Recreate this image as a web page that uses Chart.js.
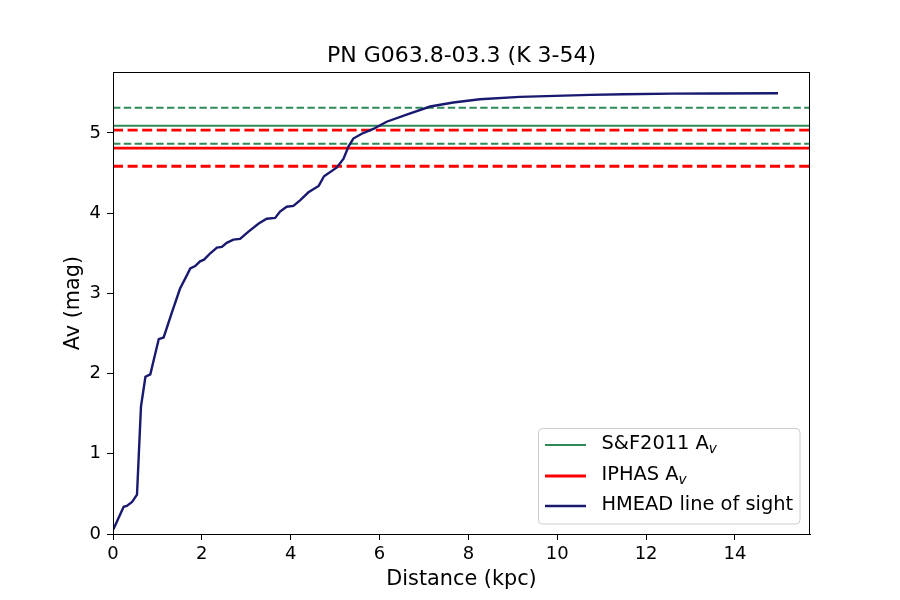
<!DOCTYPE html>
<html>
<head>
<meta charset="utf-8">
<title>PN G063.8-03.3 (K 3-54)</title>
<script src="https://cdn.jsdelivr.net/npm/chart.js@4.4.1/dist/chart.umd.min.js"></script>
<style>
  html, body { margin: 0; padding: 0; background: #fff; }
  #wrap { width: 900px; height: 600px; }
</style>
</head>
<body>
<div id="wrap"><canvas id="chart" width="900" height="600"></canvas></div>
<script>
// HMEAD line of sight
const distance = [0.01, 0.24, 0.31, 0.43, 0.54, 0.63, 0.73, 0.84, 1.03, 1.14, 1.33, 1.51, 1.63, 1.74,
    1.85, 1.96, 2.05, 2.19, 2.34, 2.45, 2.56, 2.71, 2.86, 3.05, 3.28, 3.46, 3.65, 3.76, 3.91, 4.06,
    4.21, 4.40, 4.63, 4.75, 5.04, 5.19, 5.30, 5.41, 5.60, 5.86, 6.16, 6.61, 7.14, 7.66, 8.26, 9.16,
    10.74, 11.5, 12.6, 13.5, 14.97];
const extinction = [0.06, 0.34, 0.35, 0.40, 0.49, 1.59, 1.96, 1.99, 2.43, 2.45, 2.77, 3.06, 3.19, 3.31,
    3.34, 3.40, 3.42, 3.50, 3.57, 3.58, 3.63, 3.67, 3.68, 3.77, 3.87, 3.93, 3.94, 4.02, 4.08, 4.09,
    4.16, 4.26, 4.34, 4.46, 4.57, 4.68, 4.83, 4.93, 4.99, 5.05, 5.14, 5.23, 5.33, 5.38, 5.42, 5.45,
    5.475, 5.483, 5.49, 5.492, 5.495];

// reference extinctions: value, error
const sfAv = [5.09, 0.225];
const iphasAv = [4.81, 0.225];

const xTicks = [0, 2, 4, 6, 8, 10, 12, 14];
const yTicks = [0, 1, 2, 3, 4, 5];
const xMax = 15.69;
const yMax = 5.76;

const TITLE = 'PN G063.8-03.3 (K 3-54)';
const FONT = "'DejaVu Sans', sans-serif";
const GREEN = '#2e8b57';
const RED = '#ff0000';
const NAVY = '#191970';

function hline(y) {
    return [{x: 0, y: y}, {x: xMax, y: y}];
}

function refLine(label, y, color, width, dash, showInLegend) {
    return {
        label: label,
        data: hline(y),
        borderColor: color,
        borderWidth: width,
        borderDash: dash,
        pointRadius: 0,
        showLine: true,
        order: 1,
        inLegend: showInLegend,
    };
}

const frameAndLegend = {
    id: 'frameAndLegend',
    afterDraw(chart) {
        const {ctx, chartArea: a} = chart;
        ctx.save();
        ctx.strokeStyle = '#000';
        ctx.lineWidth = 1;
        ctx.strokeRect(a.left + 0.5, a.top + 0.5, a.right - a.left - 1, a.bottom - a.top);

        // title centred over the axes
        ctx.fillStyle = '#000';
        ctx.textAlign = 'center';
        ctx.textBaseline = 'middle';
        ctx.font = '22px ' + FONT;
        ctx.fillText(TITLE, (a.left + a.right) / 2, 56);

        // legend box, lower right
        const bx = 538.5, by = 428.5, bw = 261.5, bh = 95.5, r = 4;
        ctx.beginPath();
        ctx.roundRect(bx, by, bw, bh, r);
        ctx.fillStyle = 'rgba(255,255,255,0.8)';
        ctx.fill();
        ctx.strokeStyle = '#cccccc';
        ctx.stroke();

        const items = chart.data.datasets.filter(d => d.inLegend)
            .sort((p, q) => p.legendRank - q.legendRank);
        const rows = [445, 476, 506];
        items.forEach((d, i) => {
            const y = rows[i];
            ctx.beginPath();
            ctx.strokeStyle = d.borderColor;
            ctx.lineWidth = d.borderWidth;
            ctx.setLineDash([]);
            ctx.moveTo(545, y);
            ctx.lineTo(586, y);
            ctx.stroke();

            ctx.fillStyle = '#000';
            ctx.textBaseline = 'middle';
            ctx.textAlign = 'left';
            ctx.font = '19.4px ' + FONT;
            const parts = d.label.split('_');
            ctx.fillText(parts[0], 601.5, y - 1);
            if (parts[1]) {
                const w = ctx.measureText(parts[0]).width;
                ctx.font = 'italic 13.6px ' + FONT;
                ctx.fillText(parts[1], 601.5 + w, y + 4);
            }
        });
        ctx.restore();
    }
};

const sfLine = refLine('S&F2011 A_v', sfAv[0], GREEN, 2, [], true);
sfLine.legendRank = 0;
const iphasLine = refLine('IPHAS A_v', iphasAv[0], RED, 2.8, [], true);
iphasLine.legendRank = 1;

const ctx = document.getElementById('chart').getContext('2d');
new Chart(ctx, {
    type: 'scatter',
    data: {
        datasets: [
            {
                label: 'HMEAD line of sight',
                data: distance.map((d, i) => ({x: d, y: extinction[i]})),
                borderColor: NAVY,
                borderWidth: 2.4,
                pointRadius: 0,
                showLine: true,
                order: 0,
                inLegend: true,
                legendRank: 2,
            },
            sfLine,
            refLine('S&F2011 upper', sfAv[0] + sfAv[1], GREEN, 2, [7.4, 3.4], false),
            refLine('S&F2011 lower', sfAv[0] - sfAv[1], GREEN, 2, [7.4, 3.4], false),
            iphasLine,
            refLine('IPHAS upper', iphasAv[0] + iphasAv[1], RED, 2.8, [10, 4.6], false),
            refLine('IPHAS lower', iphasAv[0] - iphasAv[1], RED, 2.8, [10, 4.6], false),
        ]
    },
    options: {
        responsive: false,
        devicePixelRatio: 1,
        animation: false,
        layout: { padding: { left: 0, right: 90, top: 72, bottom: 0 } },
        scales: {
            x: {
                type: 'linear',
                min: 0,
                max: xMax,
                afterBuildTicks: s => { s.ticks = xTicks.map(v => ({value: v})); },
                afterFit: s => { s.height = 66; },
                grid: { display: true, drawOnChartArea: false, drawTicks: true, tickLength: 6, tickColor: '#000' },
                border: { display: true, color: '#000', width: 1 },
                ticks: { color: '#000', padding: 4, font: { family: FONT, size: 18 }, maxRotation: 0 },
                title: {
                    display: true,
                    text: 'Distance (kpc)',
                    color: '#000',
                    font: { family: FONT, size: 20.8 },
                    padding: { top: 0, bottom: 7.5 },
                },
            },
            y: {
                type: 'linear',
                min: 0,
                max: yMax,
                afterBuildTicks: s => { s.ticks = yTicks.map(v => ({value: v})); },
                afterFit: s => { s.width = 113; },
                grid: { display: true, drawOnChartArea: false, drawTicks: true, tickLength: 6, tickColor: '#000' },
                border: { display: true, color: '#000', width: 1 },
                ticks: { color: '#000', padding: 6, font: { family: FONT, size: 18 } },
                title: {
                    display: true,
                    text: 'Av (mag)',
                    color: '#000',
                    font: { family: FONT, size: 20.8 },
                    padding: { top: 61.5, bottom: 0 },
                },
            },
        },
        plugins: {
            legend: { display: false },
            tooltip: { enabled: false },
            title: { display: false },
        },
    },
    plugins: [frameAndLegend],
});
</script>
</body>
</html>
